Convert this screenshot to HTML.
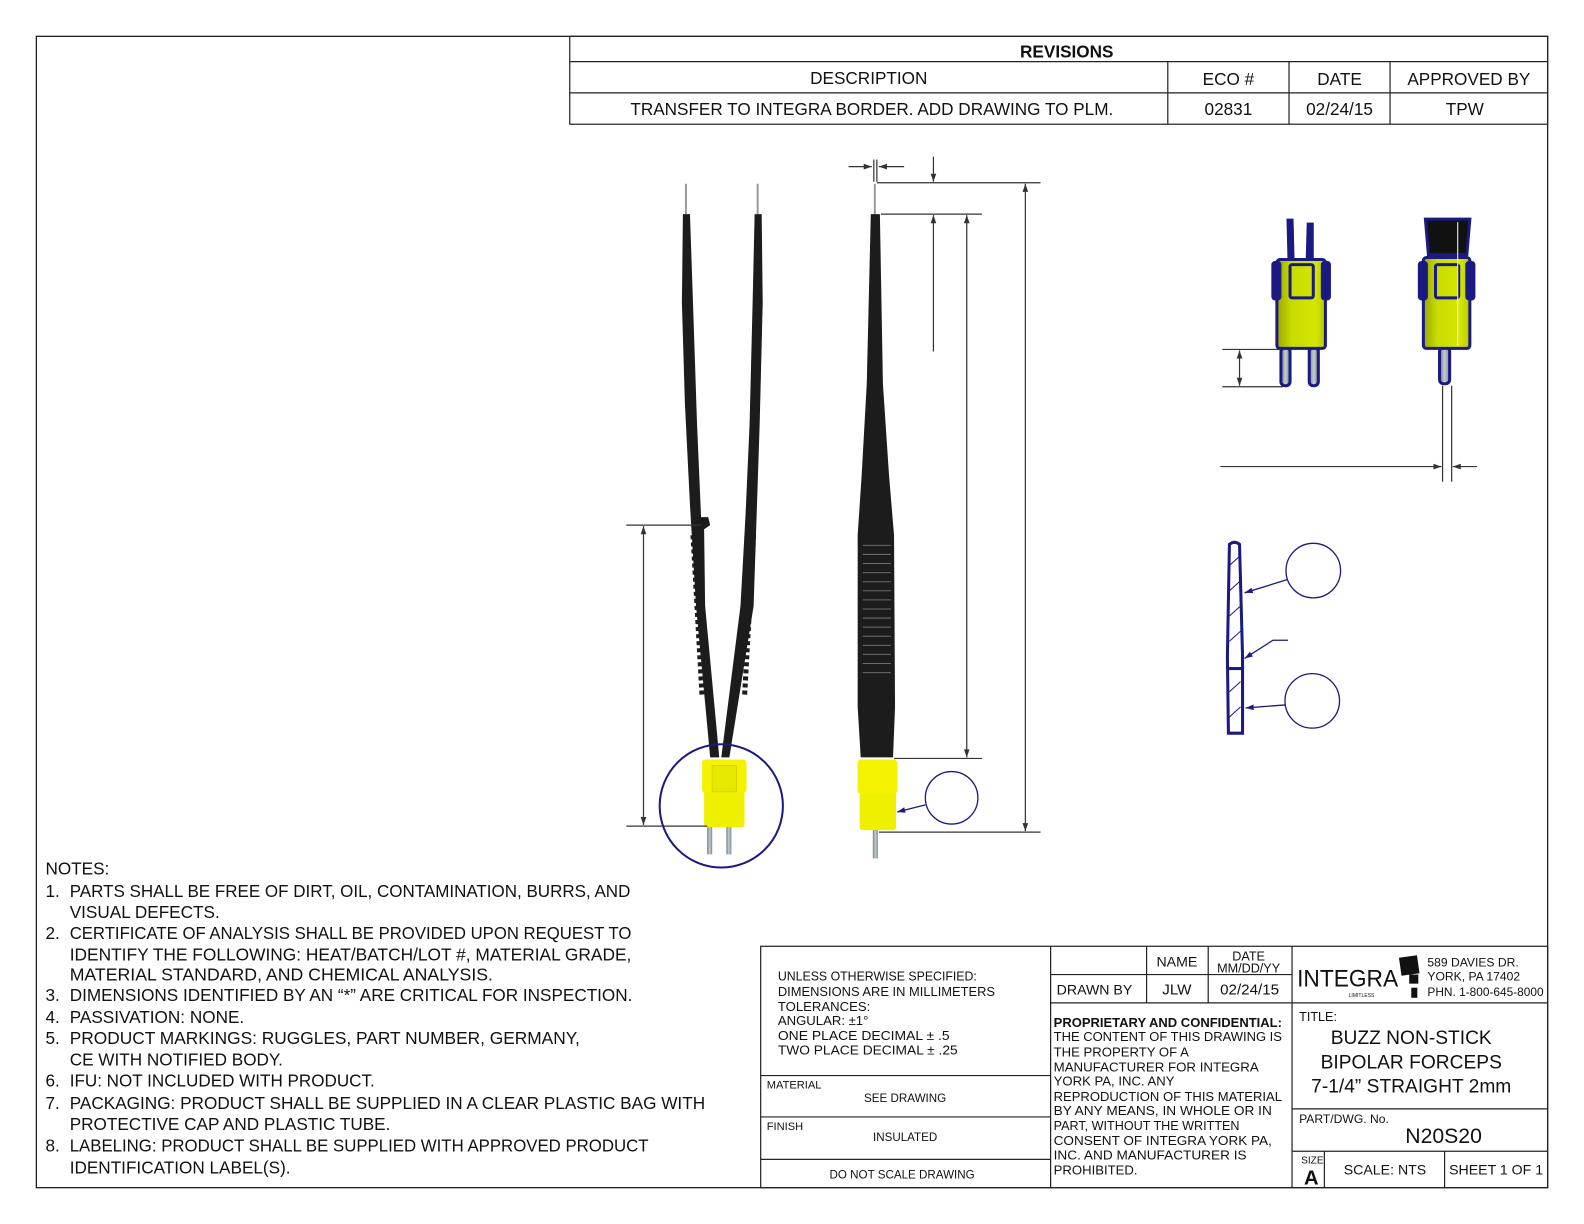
<!DOCTYPE html>
<html><head><meta charset="utf-8"><style>
html,body{margin:0;padding:0;background:#fff;}
svg{display:block;}
text{font-family:"Liberation Sans",sans-serif;fill:#111;}
</style></head><body>
<svg width="1584" height="1224" viewBox="0 0 1568 1212" preserveAspectRatio="none" xmlns="http://www.w3.org/2000/svg">
<defs>
<marker id="ar" viewBox="0 0 10 10" refX="10" refY="5" markerWidth="10" markerHeight="8" orient="auto-start-reverse" markerUnits="userSpaceOnUse"><path d="M0,1.5 L10,5 L0,8.5z" fill="#333"/></marker>
<marker id="ab" viewBox="0 0 10 10" refX="10" refY="5" markerWidth="12" markerHeight="8" orient="auto" markerUnits="userSpaceOnUse"><path d="M0,1.5 L10,5 L0,8.5z" fill="#1a1a80"/></marker>
<linearGradient id="yl" x1="0" x2="1"><stop offset="0" stop-color="#9aa800"/><stop offset=".3" stop-color="#c8dc00"/><stop offset=".8" stop-color="#d4e600"/><stop offset="1" stop-color="#b8c800"/></linearGradient>
<linearGradient id="pin" x1="0" x2="1"><stop offset="0" stop-color="#6f7f88"/><stop offset=".5" stop-color="#c4ccd0"/><stop offset="1" stop-color="#7a8890"/></linearGradient>
</defs>
<!-- border -->
<rect x="36" y="36" width="1496" height="1140" fill="none" stroke="#222" stroke-width="1.3"/>
<!-- revisions -->
<g stroke="#222" stroke-width="1.2" fill="none">
<rect x="564" y="36" width="968" height="87"/>
<line x1="564" y1="61" x2="1532" y2="61"/>
<line x1="564" y1="92" x2="1532" y2="92"/>
<line x1="1156" y1="61" x2="1156" y2="123"/>
<line x1="1276" y1="61" x2="1276" y2="123"/>
<line x1="1376" y1="61" x2="1376" y2="123"/>
</g>
<g font-size="17" text-anchor="middle">
<text x="1056" y="57" font-weight="bold">REVISIONS</text>
<text x="860" y="83">DESCRIPTION</text>
<text x="1216" y="84">ECO #</text>
<text x="1326" y="84">DATE</text>
<text x="1454" y="84">APPROVED BY</text>
<text x="863" y="114" textLength="478" lengthAdjust="spacingAndGlyphs">TRANSFER TO INTEGRA BORDER. ADD DRAWING TO PLM.</text>
<text x="1216" y="114">02831</text>
<text x="1326" y="114">02/24/15</text>
<text x="1450" y="114">TPW</text>
</g>

<!-- LEFT VIEW forceps -->
<g>
<line x1="679" y1="182" x2="679" y2="212" stroke="#9a9a9a" stroke-width="2"/>
<line x1="750" y1="182" x2="750" y2="212" stroke="#9a9a9a" stroke-width="2"/>
<path d="M676,212 L683,212 L686,300 L690,420 L694,512 L701,512 L703,520 L697,524 L698,600 L712,750 L703,750 L689,600 L683,500 L678,400 L675,300 Z" fill="#1c1c1c"/>
<path d="M747,212 L754,212 L755,300 L752,420 L749,510 L746,600 L722,750 L714,750 L733,600 L738,510 L742,420 L745,300 Z" fill="#1c1c1c"/>
<line x1="686" y1="530" x2="695" y2="690" stroke="#1c1c1c" stroke-width="5" stroke-dasharray="4,3"/>
<line x1="746" y1="530" x2="737" y2="690" stroke="#1c1c1c" stroke-width="5" stroke-dasharray="4,3"/>
<rect x="700" y="818" width="5" height="28" fill="url(#pin)"/>
<rect x="719" y="818" width="5" height="28" fill="url(#pin)"/>
<rect x="697" y="752" width="40" height="67" rx="3" fill="#eef000"/>
<rect x="695" y="752" width="44" height="33" rx="3" fill="#f4f200"/>
<rect x="705" y="758" width="24" height="26" fill="#e6e800" stroke="#d6d400"/>
<circle cx="714" cy="798" r="61" fill="none" stroke="#1a1a80" stroke-width="2"/>
</g>
<!-- left dimension -->
<g stroke="#333" stroke-width="1.2">
<line x1="620" y1="520" x2="694" y2="520"/>
<line x1="620" y1="818" x2="700" y2="818"/>
<line x1="637" y1="521" x2="637" y2="817" marker-start="url(#ar)" marker-end="url(#ar)"/>
</g>

<!-- MIDDLE VIEW -->
<g>
<line x1="866" y1="182" x2="866" y2="212" stroke="#9a9a9a" stroke-width="2"/>
<path d="M862,212 L871,212 L874,380 L880,470 L885,530 L886,700 L884,750 L852,750 L849,700 L849,530 L853,470 L858,380 Z" fill="#1c1c1c"/>
<g stroke="#6a6a6a" stroke-width="1">
<line x1="854" y1="540" x2="882" y2="540"/><line x1="854" y1="549" x2="882" y2="549"/><line x1="854" y1="558" x2="882" y2="558"/><line x1="854" y1="567" x2="882" y2="567"/><line x1="854" y1="576" x2="882" y2="576"/><line x1="854" y1="585" x2="882" y2="585"/><line x1="854" y1="594" x2="882" y2="594"/><line x1="854" y1="603" x2="882" y2="603"/><line x1="854" y1="612" x2="882" y2="612"/><line x1="854" y1="621" x2="882" y2="621"/><line x1="854" y1="630" x2="882" y2="630"/><line x1="854" y1="639" x2="882" y2="639"/><line x1="854" y1="648" x2="882" y2="648"/><line x1="854" y1="657" x2="882" y2="657"/><line x1="854" y1="666" x2="882" y2="666"/>
</g>
<rect x="864" y="820" width="5" height="30" fill="url(#pin)"/>
<rect x="851" y="752" width="36" height="70" rx="3" fill="#eef000"/>
<rect x="849" y="752" width="39" height="34" rx="3" fill="#f4f200"/>
<circle cx="942" cy="790" r="26" fill="none" stroke="#1a1a80" stroke-width="1.3"/>
<line x1="916" y1="797" x2="888" y2="804" stroke="#1a1a80" stroke-width="1.3" marker-end="url(#ab)"/>
</g>
<!-- middle dims -->
<g stroke="#333" stroke-width="1.2" fill="none">
<line x1="868" y1="181" x2="1030" y2="181"/>
<line x1="872" y1="212" x2="972" y2="212"/>
<line x1="885" y1="751" x2="972" y2="751"/>
<line x1="870" y1="824" x2="1030" y2="824"/>
<line x1="1015" y1="182" x2="1015" y2="823" marker-start="url(#ar)" marker-end="url(#ar)"/>
<line x1="957" y1="213" x2="957" y2="750" marker-start="url(#ar)" marker-end="url(#ar)"/>
<line x1="924" y1="155" x2="924" y2="180" marker-end="url(#ar)"/>
<line x1="924" y1="348" x2="924" y2="213" marker-end="url(#ar)"/>
<line x1="840" y1="165" x2="863" y2="165" marker-end="url(#ar)"/>
<line x1="895" y1="165" x2="870" y2="165" marker-end="url(#ar)"/>
<line x1="865" y1="158" x2="865" y2="180"/>
<line x1="868" y1="158" x2="868" y2="180"/>
</g>

<!-- RIGHT VIEW 1 -->
<g stroke="#1a1a80" stroke-width="3">
<path d="M1275,218 L1279,218 L1280,258 L1276,258 Z" fill="#1a1a80"/>
<path d="M1295,222 L1299,222 L1299,258 L1294,258 Z" fill="#1a1a80"/>
<rect x="1268" y="344" width="9" height="38" rx="4" fill="url(#pin)"/>
<rect x="1296" y="344" width="9" height="38" rx="4" fill="url(#pin)"/>
<rect x="1264" y="257" width="48" height="88" rx="3" fill="url(#yl)"/>
<rect x="1260" y="260" width="7" height="36" rx="2" fill="#1a1a80"/>
<rect x="1309" y="260" width="7" height="36" rx="2" fill="#1a1a80"/>
<rect x="1277" y="262" width="23" height="33" rx="2" fill="none"/>
</g>
<!-- RIGHT VIEW 2 -->
<g stroke="#1a1a80" stroke-width="3">
<path d="M1411,217 L1455,217 L1452,252 L1414,252 Z" fill="#111"/>
<rect x="1425" y="344" width="10" height="36" rx="4" fill="url(#pin)"/>
<rect x="1409" y="255" width="46" height="90" rx="3" fill="url(#yl)"/>
<rect x="1405" y="260" width="7" height="36" rx="2" fill="#1a1a80"/>
<rect x="1452" y="260" width="7" height="36" rx="2" fill="#1a1a80"/>
<rect x="1421" y="262" width="23" height="33" rx="2" fill="none"/>
</g>
<line x1="1443" y1="220" x2="1443" y2="342" stroke="#fff" stroke-width="1"/>
<!-- right dims -->
<g stroke="#333" stroke-width="1.2">
<line x1="1210" y1="346" x2="1268" y2="346"/>
<line x1="1210" y1="383" x2="1270" y2="383"/>
<line x1="1227" y1="347" x2="1227" y2="382" marker-start="url(#ar)" marker-end="url(#ar)"/>
<line x1="1208" y1="462" x2="1427" y2="462" marker-end="url(#ar)"/>
<line x1="1462" y1="462" x2="1438" y2="462" marker-end="url(#ar)"/>
<line x1="1428" y1="382" x2="1428" y2="477"/>
<line x1="1437" y1="382" x2="1437" y2="477"/>
</g>
<!-- section view -->
<g stroke="#1a1a80" stroke-width="3" fill="#fff">
<path d="M1217,539 Q1222,535 1227,539 L1230,650 L1230,726 L1216,726 L1215,650 Z"/>
<line x1="1215" y1="662" x2="1230" y2="662"/>
</g>
<g stroke="#1a1a80" stroke-width="1">
<line x1="1217" y1="560" x2="1228" y2="550"/><line x1="1217" y1="585" x2="1228" y2="575"/><line x1="1217" y1="610" x2="1228" y2="600"/><line x1="1217" y1="635" x2="1228" y2="625"/><line x1="1217" y1="685" x2="1228" y2="675"/><line x1="1217" y1="710" x2="1228" y2="700"/>
</g>
<g stroke="#1a1a80" stroke-width="1.3" fill="none">
<circle cx="1300" cy="565" r="27"/>
<circle cx="1299" cy="694" r="27"/>
<line x1="1274" y1="574" x2="1232" y2="587" marker-end="url(#ab)"/>
<polyline points="1275,634 1260,634 1232,652" marker-end="url(#ab)"/>
<line x1="1272" y1="698" x2="1233" y2="701" marker-end="url(#ab)"/>
</g>

<!-- NOTES -->
<g font-size="17">
<text x="45" y="866">NOTES:</text>
<text x="45" y="888">1.</text><text x="69" y="888" textLength="555" lengthAdjust="spacingAndGlyphs">PARTS SHALL BE FREE OF DIRT, OIL, CONTAMINATION, BURRS, AND</text>
<text x="69" y="909">VISUAL DEFECTS.</text>
<text x="45" y="930">2.</text><text x="69" y="930" textLength="556" lengthAdjust="spacingAndGlyphs">CERTIFICATE OF ANALYSIS SHALL BE PROVIDED UPON REQUEST TO</text>
<text x="69" y="951" textLength="556" lengthAdjust="spacingAndGlyphs">IDENTIFY THE FOLLOWING: HEAT/BATCH/LOT #, MATERIAL GRADE,</text>
<text x="69" y="971" textLength="419" lengthAdjust="spacingAndGlyphs">MATERIAL STANDARD, AND CHEMICAL ANALYSIS.</text>
<text x="45" y="991">3.</text><text x="69" y="991" textLength="557" lengthAdjust="spacingAndGlyphs">DIMENSIONS IDENTIFIED BY AN “*” ARE CRITICAL FOR INSPECTION.</text>
<text x="45" y="1013">4.</text><text x="69" y="1013">PASSIVATION: NONE.</text>
<text x="45" y="1034">5.</text><text x="69" y="1034" textLength="505" lengthAdjust="spacingAndGlyphs">PRODUCT MARKINGS: RUGGLES, PART NUMBER, GERMANY,</text>
<text x="69" y="1055">CE WITH NOTIFIED BODY.</text>
<text x="45" y="1076">6.</text><text x="69" y="1076" textLength="302" lengthAdjust="spacingAndGlyphs">IFU: NOT INCLUDED WITH PRODUCT.</text>
<text x="45" y="1098">7.</text><text x="69" y="1098" textLength="629" lengthAdjust="spacingAndGlyphs">PACKAGING: PRODUCT SHALL BE SUPPLIED IN A CLEAR PLASTIC BAG WITH</text>
<text x="69" y="1119">PROTECTIVE CAP AND PLASTIC TUBE.</text>
<text x="45" y="1140">8.</text><text x="69" y="1140" textLength="573" lengthAdjust="spacingAndGlyphs">LABELING: PRODUCT SHALL BE SUPPLIED WITH APPROVED PRODUCT</text>
<text x="69" y="1162">IDENTIFICATION LABEL(S).</text>
</g>

<!-- TITLE BLOCK -->
<g stroke="#222" stroke-width="1.2" fill="none">
<rect x="753" y="937" width="779" height="239"/>
<line x1="1040" y1="937" x2="1040" y2="1176"/>
<line x1="1279" y1="937" x2="1279" y2="1176"/>
<line x1="753" y1="1065" x2="1040" y2="1065"/>
<line x1="753" y1="1106" x2="1040" y2="1106"/>
<line x1="753" y1="1148" x2="1040" y2="1148"/>
<line x1="1040" y1="965" x2="1279" y2="965"/>
<line x1="1040" y1="993" x2="1279" y2="993"/>
<line x1="1135" y1="937" x2="1135" y2="993"/>
<line x1="1196" y1="937" x2="1196" y2="993"/>
<line x1="1279" y1="993" x2="1532" y2="993"/>
<line x1="1279" y1="1098" x2="1532" y2="1098"/>
<line x1="1279" y1="1140" x2="1532" y2="1140"/>
<line x1="1311" y1="1140" x2="1311" y2="1176"/>
<line x1="1430" y1="1140" x2="1430" y2="1176"/>
</g>
<g font-size="13">
<text x="770" y="971" textLength="197" lengthAdjust="spacingAndGlyphs">UNLESS OTHERWISE SPECIFIED:</text>
<text x="770" y="986" textLength="215" lengthAdjust="spacingAndGlyphs">DIMENSIONS ARE IN MILLIMETERS</text>
<text x="770" y="1001">TOLERANCES:</text>
<text x="770" y="1015">ANGULAR: ±1°</text>
<text x="770" y="1030" textLength="170" lengthAdjust="spacingAndGlyphs">ONE PLACE DECIMAL ± .5</text>
<text x="770" y="1044" textLength="178" lengthAdjust="spacingAndGlyphs">TWO PLACE DECIMAL ± .25</text>
<text x="759" y="1078" font-size="11">MATERIAL</text>
<text x="896" y="1091" font-size="11.5" text-anchor="middle">SEE DRAWING</text>
<text x="759" y="1119" font-size="11">FINISH</text>
<text x="896" y="1130" font-size="11.5" text-anchor="middle">INSULATED</text>
<text x="893" y="1167" font-size="11.5" text-anchor="middle">DO NOT SCALE DRAWING</text>
<text x="1165" y="957" text-anchor="middle" font-size="14">NAME</text>
<text x="1236" y="951" text-anchor="middle" font-size="12.5">DATE</text>
<text x="1236" y="963" text-anchor="middle" font-size="12.5">MM/DD/YY</text>
<text x="1046" y="985" font-size="14">DRAWN BY</text>
<text x="1165" y="985" text-anchor="middle" font-size="15">JLW</text>
<text x="1237" y="985" text-anchor="middle" font-size="15">02/24/15</text>
<text x="1043" y="1017" font-weight="bold" textLength="226" lengthAdjust="spacingAndGlyphs">PROPRIETARY AND CONFIDENTIAL:</text>
<text x="1043" y="1031" textLength="226" lengthAdjust="spacingAndGlyphs">THE CONTENT OF THIS DRAWING IS</text>
<text x="1043" y="1046">THE PROPERTY OF A</text>
<text x="1043" y="1061" textLength="203" lengthAdjust="spacingAndGlyphs">MANUFACTURER FOR INTEGRA</text>
<text x="1043" y="1075">YORK PA, INC. ANY</text>
<text x="1043" y="1090" textLength="226" lengthAdjust="spacingAndGlyphs">REPRODUCTION OF THIS MATERIAL</text>
<text x="1043" y="1104" textLength="216" lengthAdjust="spacingAndGlyphs">BY ANY MEANS, IN WHOLE OR IN</text>
<text x="1043" y="1119" textLength="184" lengthAdjust="spacingAndGlyphs">PART, WITHOUT THE WRITTEN</text>
<text x="1043" y="1134" textLength="216" lengthAdjust="spacingAndGlyphs">CONSENT OF INTEGRA YORK PA,</text>
<text x="1043" y="1148" textLength="191" lengthAdjust="spacingAndGlyphs">INC. AND MANUFACTURER IS</text>
<text x="1043" y="1163">PROHIBITED.</text>
</g>
<!-- logo -->
<text x="1284" y="977" font-size="24" textLength="100" lengthAdjust="spacingAndGlyphs">INTEGRA</text>
<rect x="1386" y="947" width="18" height="18" fill="#111" transform="rotate(-8 1395 956)"/>
<rect x="1395" y="965" width="9" height="9" fill="#111"/>
<rect x="1397" y="978" width="6" height="10" fill="#111"/>
<text x="1335" y="987" font-size="5" fill="#555">LIMITLESS</text>
<g font-size="12">
<text x="1413" y="957">589 DAVIES DR.</text>
<text x="1413" y="971">YORK, PA 17402</text>
<text x="1413" y="986" textLength="115" lengthAdjust="spacingAndGlyphs">PHN. 1-800-645-8000</text>
<text x="1286" y="1011" font-size="12.5">TITLE:</text>
<text x="1286" y="1112" font-size="12">PART/DWG. No.</text>
<text x="1288" y="1152" font-size="10">SIZE</text>
</g>
<g font-size="19" text-anchor="middle">
<text x="1397" y="1034">BUZZ NON-STICK</text>
<text x="1397" y="1058">BIPOLAR FORCEPS</text>
<text x="1397" y="1082">7-1/4” STRAIGHT 2mm</text>
<text x="1429" y="1132" font-size="21">N20S20</text>
</g>
<text x="1298" y="1173" font-size="20" font-weight="bold" text-anchor="middle">A</text>
<text x="1371" y="1163" font-size="14" text-anchor="middle">SCALE: NTS</text>
<text x="1481" y="1163" font-size="14" text-anchor="middle">SHEET 1 OF 1</text>
</svg>
</body></html>
